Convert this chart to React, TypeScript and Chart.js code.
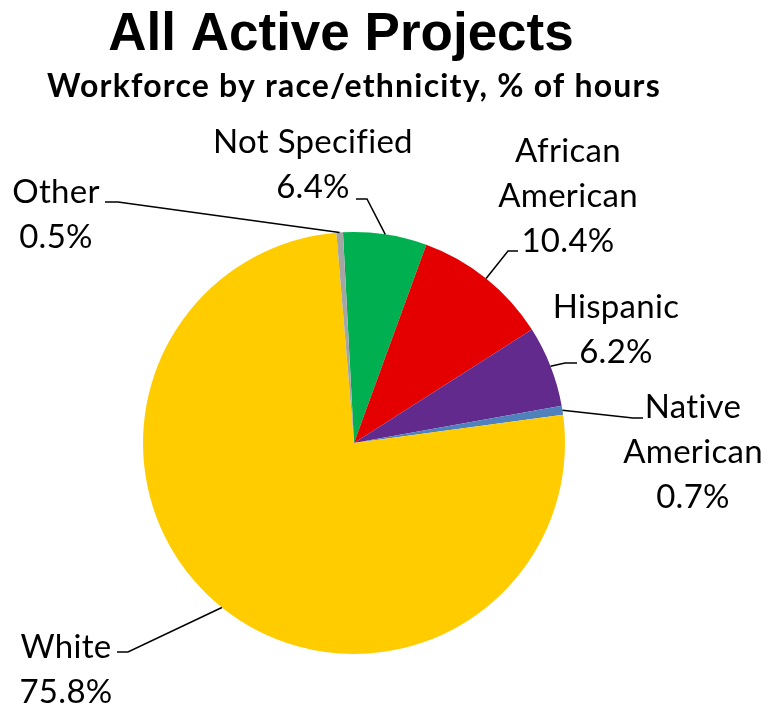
import { useEffect, useRef } from "react";
import { Chart, registerables } from "chart.js";

Chart.register(...registerables);

const TITLE = "All Active Projects";
const SUBTITLE = "Workforce by race/ethnicity, % of hours";
const CATEGORIES = ["Not Specified", "African American", "Hispanic", "Native American", "White", "Other"];
const LABEL_LINES = [["Not Specified"], ["African", "American"], ["Hispanic"], ["Native", "American"], ["White"], ["Other"]];
const VALUES = [6.4, 10.4, 6.2, 0.7, 75.8, 0.5];
const COLORS = ["#00B050", "#E40000", "#622A8D", "#4F81BD", "#FFCC00", "#A5A5A5"];

// label placement relative to pie centre: text centre x / first baseline, leader start & elbow
const LABEL_LAYOUT = [
  { tx: -41, ty: -290, sx: 2, sy: -244, ex: 13, ey: -244 },
  { tx: 214, ty: -281, sx: 164, sy: -192, ex: 154, ey: -192 },
  { tx: 262, ty: -125, sx: 223, sy: -80, ex: 211, ey: -80 },
  { tx: 339, ty: -25, sx: 289, sy: -25, ex: 279, ey: -25 },
  { tx: -288, ty: 215, sx: -237, sy: 209, ex: -226, ey: 209 },
  { tx: -298, ty: -240, sx: -249, sy: -241, ex: -236, ey: -241 },
];

const LABEL_FONT = "33px Lato";
const LINE_GAP = 45;

const labelPlugin = {
  id: "customLabels",
  afterDraw(chart: any) {
    const ctx = chart.ctx as any;
    ctx.save();
    ctx.fillStyle = "#000";
    ctx.textAlign = "center";
    ctx.textBaseline = "alphabetic";
    ctx.font = "bold 53px 'Liberation Sans'";
    ctx.letterSpacing = "0px";
    ctx.fillText(TITLE, 341, 50);
    ctx.font = "bold 32px Lato";
    ctx.letterSpacing = "1.2px";
    ctx.fillText(SUBTITLE, 354, 97);

    const meta = chart.getDatasetMeta(0);
    meta.data.forEach((arc: any, i: number) => {
      const p = arc.getProps(["x", "y", "startAngle", "endAngle", "outerRadius"], true);
      const mid = (p.startAngle + p.endAngle) / 2;
      const ax = p.x + Math.cos(mid) * p.outerRadius;
      const ay = p.y + Math.sin(mid) * p.outerRadius;
      const L = LABEL_LAYOUT[i];
      ctx.strokeStyle = "#000";
      ctx.lineWidth = 1.5;
      ctx.beginPath();
      ctx.moveTo(p.x + L.sx, p.y + L.sy);
      ctx.lineTo(p.x + L.ex, p.y + L.ey);
      ctx.lineTo(ax, ay);
      ctx.stroke();
      ctx.font = LABEL_FONT;
      ctx.letterSpacing = "0.3px";
      const lines = [...LABEL_LINES[i], `${VALUES[i].toFixed(1)}%`];
      lines.forEach((t, k) => {
        ctx.fillText(t, p.x + L.tx, p.y + L.ty + k * LINE_GAP);
      });
    });
    ctx.restore();
  },
};

export default function App() {
  const ref = useRef<HTMLCanvasElement>(null);
  useEffect(() => {
    if (!ref.current) return;
    const chart = new Chart(ref.current, {
      type: "pie",
      data: {
        labels: CATEGORIES,
        datasets: [
          {
            data: VALUES,
            backgroundColor: COLORS,
            borderWidth: 0,
          },
        ],
      },
      options: {
        animation: false,
        responsive: false,
        rotation: -3,
        layout: { padding: { left: 143, right: 204, top: 232, bottom: 51 } },
        plugins: {
          legend: { display: false },
          title: { display: false },
          tooltip: { enabled: false },
        },
      },
      plugins: [labelPlugin],
    });
    (document as any).fonts?.load?.(LABEL_FONT).then(() => chart.update()).catch(() => {});
    return () => chart.destroy();
  }, []);
  return (
    <div style={{ position: "fixed", left: 0, top: 0, width: 769, height: 705, background: "#fff" }}>
      <canvas ref={ref} width={769} height={705} style={{ width: 769, height: 705 }} />
    </div>
  );
}
